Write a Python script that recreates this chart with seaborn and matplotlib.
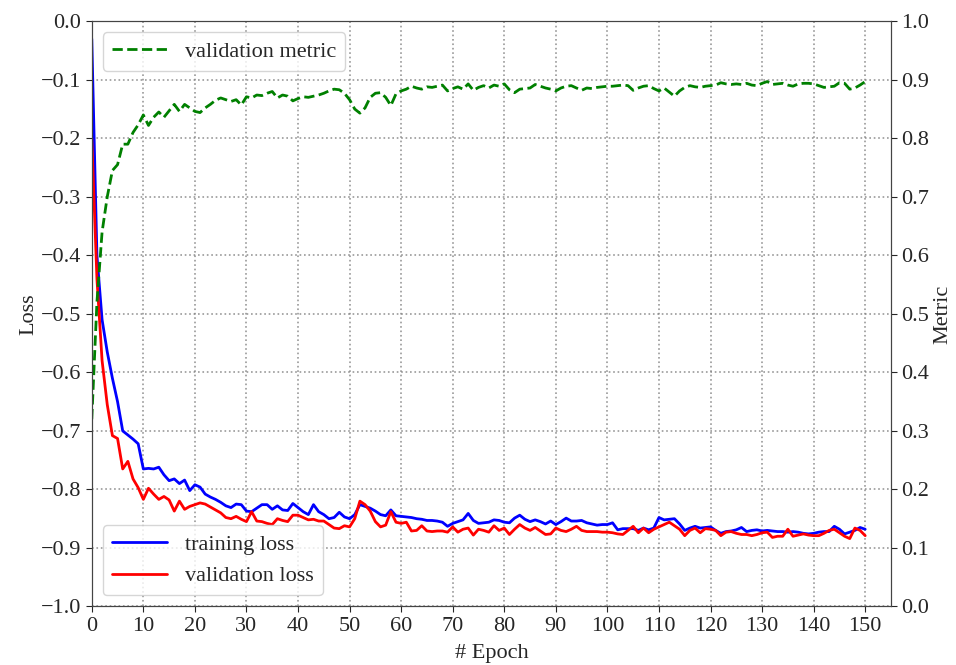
import numpy as np
import matplotlib
matplotlib.use("Agg")
import matplotlib.pyplot as plt
import seaborn as sns

epochs = list(range(0, 151))

training_loss = [
    -0.03, -0.40, -0.51, -0.565, -0.61, -0.65, -0.70, -0.707, -0.714, -0.722,
    -0.765, -0.764, -0.765, -0.762, -0.775, -0.785, -0.782, -0.79, -0.784, -0.802,
    -0.792, -0.796, -0.808, -0.813, -0.817, -0.822, -0.828, -0.831, -0.825, -0.826,
    -0.837, -0.838, -0.832, -0.826, -0.826, -0.834, -0.828, -0.835, -0.836, -0.824,
    -0.831, -0.838, -0.843, -0.826, -0.838, -0.843, -0.85, -0.848, -0.839, -0.847,
    -0.85, -0.843, -0.826, -0.829, -0.832, -0.837, -0.843, -0.845, -0.835, -0.845,
    -0.846, -0.847, -0.848, -0.850, -0.851, -0.853, -0.853, -0.854, -0.856, -0.863,
    -0.858, -0.855, -0.852, -0.841, -0.853, -0.858, -0.857, -0.856, -0.852, -0.853,
    -0.856, -0.857, -0.849, -0.844, -0.851, -0.855, -0.852, -0.855, -0.859, -0.854,
    -0.860, -0.855, -0.849, -0.854, -0.854, -0.853, -0.857, -0.859, -0.861, -0.860,
    -0.860, -0.857, -0.869, -0.867, -0.867, -0.867, -0.870, -0.866, -0.869, -0.866,
    -0.848, -0.852, -0.851, -0.850, -0.859, -0.870, -0.866, -0.863, -0.866, -0.865,
    -0.864, -0.870, -0.875, -0.872, -0.871, -0.869, -0.865, -0.872, -0.870, -0.869,
    -0.871, -0.870, -0.871, -0.872, -0.872, -0.873, -0.872, -0.873, -0.875, -0.876,
    -0.875, -0.873, -0.872, -0.872, -0.863, -0.868, -0.876, -0.873, -0.870, -0.865,
    -0.868,
]

validation_loss = [
    -0.20, -0.44, -0.58, -0.655, -0.708, -0.713, -0.765, -0.752, -0.782, -0.797,
    -0.817, -0.798, -0.808, -0.817, -0.812, -0.818, -0.837, -0.820, -0.834, -0.829,
    -0.826, -0.823, -0.825, -0.830, -0.835, -0.840, -0.848, -0.850, -0.846, -0.851,
    -0.855, -0.838, -0.854, -0.855, -0.858, -0.860, -0.850, -0.853, -0.855, -0.844,
    -0.844, -0.848, -0.852, -0.851, -0.854, -0.854, -0.860, -0.866, -0.867, -0.862,
    -0.864, -0.850, -0.820, -0.826, -0.837, -0.855, -0.864, -0.861, -0.838, -0.856,
    -0.858, -0.856, -0.871, -0.870, -0.862, -0.871, -0.872, -0.871, -0.871, -0.873,
    -0.864, -0.873, -0.868, -0.866, -0.878, -0.868, -0.870, -0.873, -0.862, -0.870,
    -0.866, -0.877, -0.868, -0.860, -0.866, -0.870, -0.865, -0.871, -0.877, -0.876,
    -0.866, -0.870, -0.872, -0.868, -0.863, -0.870, -0.872, -0.872, -0.872, -0.873,
    -0.873, -0.874, -0.876, -0.877, -0.870, -0.863, -0.874, -0.866, -0.874, -0.868,
    -0.864, -0.860, -0.856, -0.862, -0.868, -0.879, -0.870, -0.866, -0.874, -0.867,
    -0.868, -0.870, -0.879, -0.873, -0.872, -0.875, -0.877, -0.877, -0.879, -0.877,
    -0.874, -0.873, -0.882, -0.880, -0.880, -0.868, -0.880, -0.878, -0.876, -0.878,
    -0.879, -0.879, -0.875, -0.870, -0.868, -0.874, -0.880, -0.884, -0.866, -0.870,
    -0.879,
]

validation_metric = [
    0.32, 0.52, 0.64, 0.70, 0.745, 0.755, 0.790, 0.790, 0.810, 0.823,
    0.840, 0.822, 0.836, 0.845, 0.836, 0.847, 0.858, 0.846, 0.858, 0.852,
    0.846, 0.844, 0.852, 0.858, 0.865, 0.869, 0.866, 0.863, 0.866, 0.857,
    0.871, 0.869, 0.874, 0.873, 0.877, 0.880, 0.869, 0.874, 0.872, 0.864,
    0.868, 0.871, 0.870, 0.872, 0.874, 0.877, 0.881, 0.884, 0.883, 0.877,
    0.866, 0.850, 0.843, 0.852, 0.870, 0.877, 0.878, 0.870, 0.856, 0.876,
    0.881, 0.884, 0.889, 0.886, 0.884, 0.888, 0.887, 0.889, 0.891, 0.881,
    0.885, 0.888, 0.884, 0.893, 0.882, 0.887, 0.890, 0.886, 0.891, 0.889,
    0.893, 0.883, 0.878, 0.884, 0.885, 0.886, 0.892, 0.889, 0.886, 0.884,
    0.881, 0.886, 0.889, 0.890, 0.886, 0.882, 0.886, 0.885, 0.887, 0.888,
    0.889, 0.889, 0.890, 0.891, 0.890, 0.882, 0.886, 0.889, 0.890, 0.885,
    0.881, 0.886, 0.879, 0.872, 0.881, 0.887, 0.890, 0.888, 0.887, 0.889,
    0.890, 0.891, 0.895, 0.893, 0.892, 0.893, 0.892, 0.894, 0.891, 0.890,
    0.894, 0.897, 0.892, 0.893, 0.894, 0.891, 0.889, 0.893, 0.894, 0.894,
    0.893, 0.890, 0.887, 0.888, 0.889, 0.895, 0.894, 0.884, 0.886, 0.891,
    0.897,
]

x_ticks = list(range(0, 151, 10))
loss_ticks = [-1.0, -0.9, -0.8, -0.7, -0.6, -0.5, -0.4, -0.3, -0.2, -0.1, 0.0]
metric_ticks = [0.0, 0.1, 0.2, 0.3, 0.4, 0.5, 0.6, 0.7, 0.8, 0.9, 1.0]

sns.set_style("ticks")
plt.rcParams['font.family'] = ['Liberation Serif', 'DejaVu Serif']
plt.rcParams['axes.unicode_minus'] = True
FS = 16

fig, ax = plt.subplots(figsize=(9.56, 6.65), dpi=100)
fig.subplots_adjust(left=0.096, right=0.932, bottom=0.088, top=0.968)
ax2 = ax.twinx()

sns.lineplot(x=epochs, y=training_loss, ax=ax, color="blue", linewidth=2, label="training loss")
sns.lineplot(x=epochs, y=validation_loss, ax=ax, color="red", linewidth=2, label="validation loss")
sns.lineplot(x=epochs, y=validation_metric, ax=ax2, color="green", linewidth=2,
             linestyle="--", label="validation metric")

ax.set_xlim(0, 155)
ax.set_ylim(-1.0, 0.0)
ax2.set_ylim(0.0, 1.0)
ax.set_xticks(x_ticks)
ax.set_yticks(loss_ticks)
ax2.set_yticks(metric_ticks)
ax.set_yticklabels([f"{v:.1f}".replace("-", "\u2212") for v in loss_ticks])
ax2.set_yticklabels([f"{v:.1f}" for v in metric_ticks])

ax.grid(True, linestyle=":", color="gray", linewidth=1.2, alpha=0.8)
ax.tick_params(labelsize=FS, direction="out", length=4)
ax2.tick_params(labelsize=FS, direction="out", length=4)

ax.set_xlabel("# Epoch", fontsize=FS, labelpad=6)
ax.set_ylabel("Loss", fontsize=FS, labelpad=2)
ax2.set_ylabel("Metric", fontsize=FS, labelpad=3)

for sp in ax.spines.values():
    sp.set_color("#444444")
for sp in ax2.spines.values():
    sp.set_color("#444444")

ax.legend(loc="lower left", fontsize=FS, frameon=True, handlelength=2.5)
ax2.legend(loc="upper left", fontsize=FS, frameon=True, handlelength=2.5)

fig.savefig("out.png", dpi=100)
